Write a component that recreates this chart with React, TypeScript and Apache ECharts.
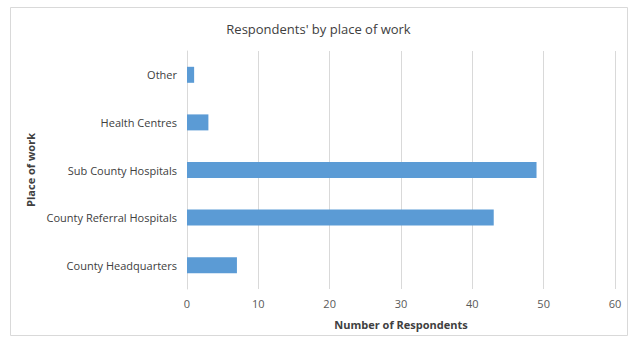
import React, { useEffect, useRef } from "react";
import * as echarts from "echarts";

const categories = ["County Headquarters", "County Referral Hospitals", "Sub County Hospitals", "Health Centres", "Other"];
const respondents = [7, 43, 49, 3, 1];
const xTicks = { min: 0, max: 60, interval: 10 };

const FONT = "'Open Sans', 'Noto Sans', sans-serif";

export default function App() {
  const ref = useRef<HTMLDivElement>(null);
  useEffect(() => {
    if (!ref.current) return;
    const chart = echarts.init(ref.current, null, { renderer: "svg" });
    chart.setOption({
      animation: false,
      backgroundColor: "#ffffff",
      title: {
        text: "Respondents' by place of work",
        left: "center",
        top: 17,
        textStyle: { fontFamily: FONT, fontSize: 13, fontWeight: "normal", color: "#404040" },
      },
      graphic: [
        {
          type: "rect",
          shape: { x: 10.5, y: 7.5, width: 617, height: 328 },
          style: { fill: "none", stroke: "#d9d9d9", lineWidth: 1 },
          silent: true,
        },
      ],
      grid: { left: 187, right: 22, top: 51, bottom: 53, containLabel: false },
      xAxis: {
        type: "value",
        min: xTicks.min,
        max: xTicks.max,
        interval: xTicks.interval,
        name: "Number of Respondents",
        nameLocation: "middle",
        nameGap: 30,
        nameTextStyle: { fontFamily: FONT, fontSize: 11, fontWeight: "bold", color: "#404040" },
        axisLine: { show: false },
        axisTick: { show: false },
        axisLabel: { fontFamily: FONT, fontSize: 11, color: "#595959", margin: 9 },
        splitLine: { show: true, lineStyle: { color: "#d9d9d9", width: 1 } },
      },
      yAxis: {
        type: "category",
        data: categories,
        name: "Place of work",
        nameLocation: "middle",
        nameGap: 146,
        nameRotate: 90,
        nameTextStyle: { fontFamily: FONT, fontSize: 11, fontWeight: "bold", color: "#404040" },
        axisLine: { show: true, lineStyle: { color: "#d9d9d9" } },
        axisTick: { show: false },
        axisLabel: { fontFamily: FONT, fontSize: 11, color: "#404040", margin: 10 },
        splitLine: { show: false },
      },
      series: [
        {
          type: "bar",
          data: respondents,
          barWidth: 16,
          itemStyle: { color: "#5b9bd5" },
        },
      ],
    });
    return () => chart.dispose();
  }, []);
  return <div ref={ref} style={{ position: "fixed", left: 0, top: 0, width: 637, height: 342 }} />;
}
